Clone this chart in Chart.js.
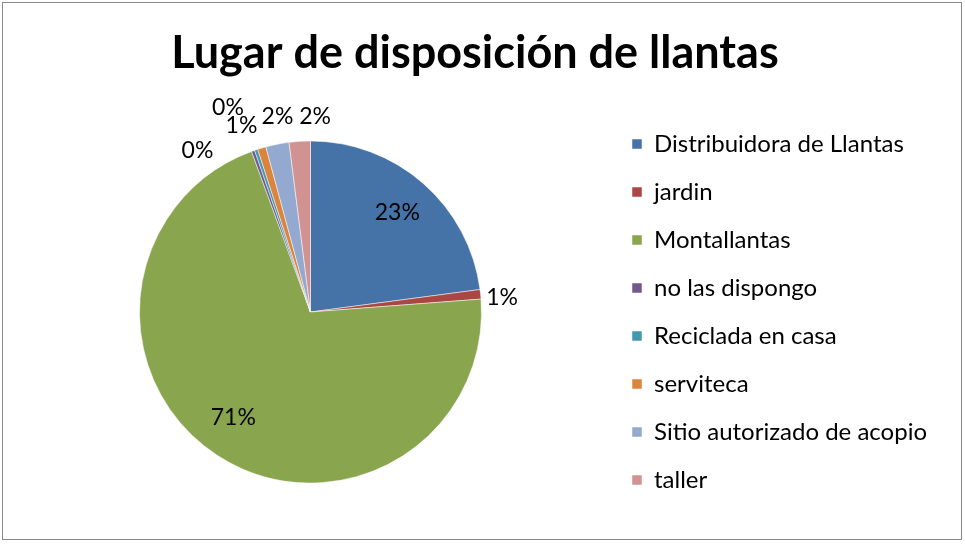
<!DOCTYPE html>
<html>
<head>
<meta charset="utf-8">
<script src="https://cdn.jsdelivr.net/npm/chart.js"></script>
<style>
  body { margin: 0; background: #fff; }
  #grafico { display: block; }
</style>
</head>
<body>
<canvas id="grafico" width="965" height="544"></canvas>
<script>
// datos
const lugares = [
  'Distribuidora de Llantas',
  'jardin',
  'Montallantas',
  'no las dispongo',
  'Reciclada en casa',
  'serviteca',
  'Sitio autorizado de acopio',
  'taller'
];
const porcentajes = [22.9, 0.9, 70.6, 0.3, 0.3, 0.8, 2.2, 2.0];
const colores = ['#4572A7', '#AA4643', '#89A54E', '#71588F', '#4198AF', '#DB843D', '#93A9CF', '#D19392'];

const fuente = 'Lato, "DejaVu Sans", sans-serif';

// small outside labels get pushed around so they don't overlap
const ajustes = [[0, 0], [-4, 6], [-6, -5], [-47, 24], [-20, -18], [-13, 2], [5, -2], [17, 1]];

const marco = {
  id: 'marco',
  beforeDraw(chart) {
    const ctx = chart.ctx;
    ctx.save();
    ctx.fillStyle = '#fff';
    ctx.fillRect(0, 0, chart.width, chart.height);
    ctx.strokeStyle = '#888';
    ctx.lineWidth = 1;
    ctx.strokeRect(2.5, 2.5, chart.width - 6, chart.height - 7);
    ctx.restore();
  }
};

const etiquetas = {
  id: 'etiquetas',
  afterDatasetsDraw(chart) {
    const ctx = chart.ctx;
    const meta = chart.getDatasetMeta(0);
    const total = porcentajes.reduce((a, b) => a + b, 0);
    ctx.save();
    ctx.font = '23px ' + fuente;
    ctx.fillStyle = '#000';
    ctx.textAlign = 'center';
    ctx.textBaseline = 'middle';
    meta.data.forEach(function (arc, i) {
      const p = arc.getProps(['x', 'y', 'startAngle', 'endAngle', 'outerRadius'], true);
      const mid = (p.startAngle + p.endAngle) / 2;
      const pct = porcentajes[i] / total * 100;
      const r = pct >= 10 ? p.outerRadius * 0.77 : p.outerRadius * 1.15;
      const n = ajustes[i];
      ctx.fillText(Math.round(pct) + '%', p.x + Math.cos(mid) * r + n[0], p.y + Math.sin(mid) * r + n[1]);
    });
    ctx.restore();
  }
};

new Chart(document.getElementById('grafico'), {
  type: 'pie',
  data: {
    labels: lugares,
    datasets: [{
      data: porcentajes,
      backgroundColor: colores,
      borderColor: '#fff',
      borderWidth: 0.5,
      radius: 171
    }]
  },
  options: {
    responsive: false,
    animation: false,
    layout: { padding: { left: 13, right: 28, top: 0, bottom: 20 } },
    plugins: {
      title: {
        display: true,
        text: 'Lugar de disposición de llantas',
        color: '#000',
        font: { family: fuente, size: 45, weight: 'bold', lineHeight: 1.2 },
        padding: { top: 26, bottom: 20 }
      },
      legend: {
        position: 'right',
        fullSize: false,
        labels: {
          color: '#000',
          font: { family: fuente, size: 24 },
          boxWidth: 10,
          boxHeight: 10,
          padding: 24
        }
      },
      tooltip: { enabled: false }
    }
  },
  plugins: [marco, etiquetas]
});
</script>
</body>
</html>
